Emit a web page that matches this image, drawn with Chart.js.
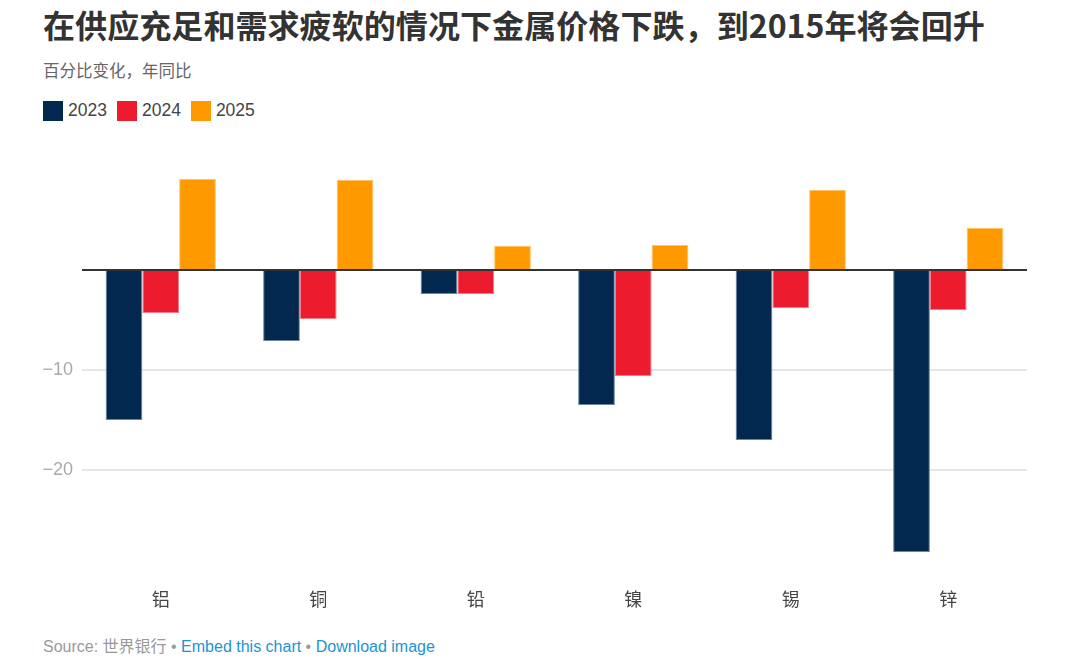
<!DOCTYPE html>
<html>
<head>
<meta charset="utf-8">
<script src="https://cdn.jsdelivr.net/npm/chart.js@4"></script>
<style>
  body { margin: 0; width: 1080px; height: 660px; background: #fff; position: relative; overflow: hidden;
         font-family: "Liberation Sans", Arial, "Noto Sans CJK SC", sans-serif; }
  #title { position: absolute; left: 43px; top: 1px; font-family: "Noto Sans CJK SC", sans-serif;
           font-weight: 700; font-size: 32.1px; color: #333; white-space: nowrap; }
  #subtitle { position: absolute; left: 43px; top: 58px; font-family: "Noto Sans CJK SC", sans-serif;
              font-size: 16.5px; color: #666; }
  #legend { position: absolute; left: 43px; top: 100px; display: flex; font-size: 17.5px; color: #444; }
  #legend span.item { display: flex; align-items: center; margin-right: 10px; }
  #legend span.sw { width: 20px; height: 20px; display: inline-block; margin-right: 5px; }
  #wrap { position: absolute; left: 0; top: 140px; width: 1080px; height: 480px; }
  #footer { position: absolute; left: 43px; top: 633px; font-size: 16px; color: #999; white-space: nowrap; }
  #footer .lnk { color: #1a94d6; }
</style>
</head>
<body>
<div id="title">在供应充足和需求疲软的情况下金属价格下跌，到2015年将会回升</div>
<div id="subtitle">百分比变化，年同比</div>
<div id="legend"></div>
<div id="wrap"><canvas id="chart" width="1080" height="480"></canvas></div>
<div id="footer">Source: <span style="font-family:'Noto Sans CJK SC'">世界银行</span> • <span class="lnk">Embed this chart</span> • <span class="lnk">Download image</span></div>
<script>
// --------- Data ---------
const metals = ["铝", "铜", "铅", "镍", "锡", "锌"];
const seriesNames = ["2023", "2024", "2025"];
const values2023 = [-15.0, -7.1, -2.4, -13.5, -17.0, -28.2];
const values2024 = [-4.3, -4.9, -2.4, -10.6, -3.8, -4.0];
const values2025 = [9.1, 9.0, 2.4, 2.5, 8.0, 4.2];
const yTicks = [-30, -20, -10, 0, 10];
const shownTicks = [-20, -10];

const colors = ["#02284f", "#ec1c2e", "#ff9900"];
const borders = ["#6d85a0", "#f57d88", "#ffc266"];

// --------- Legend ---------
const legend = document.getElementById("legend");
seriesNames.forEach((name, i) => {
  const item = document.createElement("span");
  item.className = "item";
  item.innerHTML = `<span class="sw" style="background:${colors[i]}"></span>${name}`;
  legend.appendChild(item);
});

// --------- Zero line on top of bars ---------
const zeroLine = {
  id: "zeroLine",
  afterDatasetsDraw(chart) {
    const y = chart.scales.y.getPixelForValue(0);
    const { left, right } = chart.chartArea;
    const c = chart.ctx;
    c.save();
    c.strokeStyle = "#333";
    c.lineWidth = 2;
    c.beginPath();
    c.moveTo(left, y);
    c.lineTo(right, y);
    c.stroke();
    c.restore();
  }
};

const allValues = [values2023, values2024, values2025];

new Chart(document.getElementById("chart"), {
  type: "bar",
  data: {
    labels: metals,
    datasets: seriesNames.map((name, i) => ({
      label: name,
      data: allValues[i],
      backgroundColor: colors[i],
      borderColor: borders[i],
      borderWidth: 1,
      categoryPercentage: 0.7,
      barPercentage: 1.0
    }))
  },
  options: {
    responsive: false,
    animation: false,
    devicePixelRatio: 1,
    layout: { padding: { top: 30, right: 53, left: 0, bottom: 0 } },
    plugins: {
      legend: { display: false },
      tooltip: { enabled: false }
    },
    scales: {
      x: {
        grid: { display: false, drawTicks: false },
        border: { display: false },
        ticks: {
          color: "#444",
          padding: 18,
          font: { size: 18, family: "'Noto Sans CJK SC', sans-serif" }
        },
        afterFit(scale) { scale.height = 50; }
      },
      y: {
        min: -30,
        max: 10,
        afterBuildTicks(scale) { scale.ticks = yTicks.map(v => ({ value: v })); },
        grid: {
          drawTicks: false,
          color: ctx => shownTicks.includes(ctx.tick && ctx.tick.value) ? "#e6e6e6" : "rgba(0,0,0,0)",
          lineWidth: 2
        },
        border: { display: false },
        ticks: {
          color: "#aaa",
          padding: 9,
          font: { size: 18, family: "'Liberation Sans', Arial, sans-serif" },
          callback: v => shownTicks.includes(v) ? "\u2212" + Math.abs(v) : ""
        },
        afterFit(scale) { scale.width = 82; }
      }
    }
  },
  plugins: [zeroLine]
});
</script>
</body>
</html>
